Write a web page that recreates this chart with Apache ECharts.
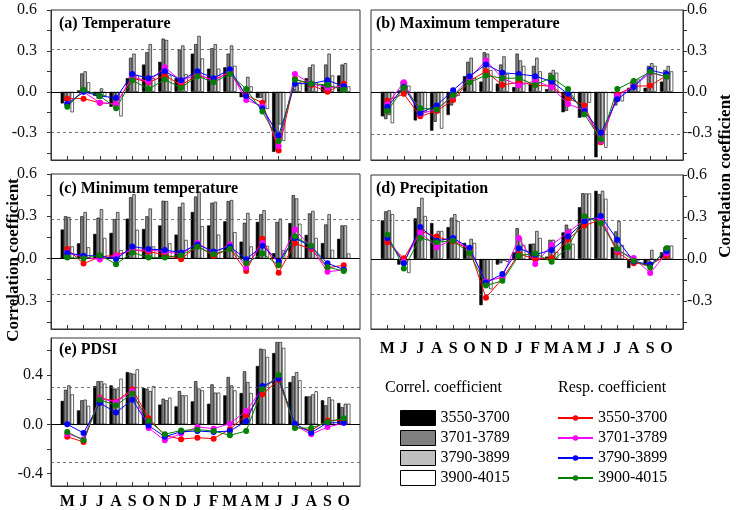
<!DOCTYPE html>
<html><head><meta charset="utf-8">
<script src="https://cdn.jsdelivr.net/npm/echarts@6/dist/echarts.min.js"></script>
<style>html,body{margin:0;padding:0;background:#fff}#c{width:736px;height:510px}</style>
</head><body><div id="c"></div>
<script>
const months = ['M','J','J','A','S','O','N','D','J','F','M','A','M','J','J','A','S','O'];
const groups = ['3550-3700','3701-3789','3790-3899','3900-4015'];

// (a) Temperature
const temp_c1 = [-0.085, 0.01, -0.03, -0.11, 0.10, 0.20, 0.22, 0.10, 0.28, 0.17, 0.18, -0.04, -0.045, -0.44, -0.01, 0.10, 0.05, 0.12];
const temp_c2 = [-0.07, 0.135, -0.05, -0.09, 0.25, 0.29, 0.39, 0.31, 0.35, 0.32, 0.28, -0.04, -0.045, -0.43, 0.02, 0.18, 0.20, 0.20];
const temp_c3 = [-0.09, 0.15, 0.025, -0.06, 0.28, 0.35, 0.38, 0.34, 0.41, 0.35, 0.34, 0.11, -0.075, -0.24, 0.05, 0.20, 0.28, 0.21];
const temp_c4 = [-0.15, 0.07, -0.03, -0.18, 0.12, 0.10, 0.12, 0.13, 0.245, 0.17, 0.19, 0.04, -0.125, -0.36, 0.07, 0.07, 0.12, 0.04];
const temp_r1 = [-0.05, -0.05, -0.08, -0.09, 0.10, 0.07, 0.12, 0.05, 0.12, 0.09, 0.14, -0.025, -0.08, -0.43, 0.095, 0.05, 0.0, 0.06];
const temp_r2 = [-0.09, 0.0, -0.08, -0.09, 0.11, 0.075, 0.18, 0.08, 0.13, 0.08, 0.15, -0.06, -0.105, -0.40, 0.13, 0.06, 0.03, 0.04];
const temp_r3 = [-0.09, 0.0, -0.03, -0.045, 0.13, 0.10, 0.15, 0.085, 0.15, 0.10, 0.165, -0.03, -0.12, -0.32, 0.06, 0.06, 0.085, 0.04];
const temp_r4 = [-0.11, 0.016, -0.03, -0.12, 0.085, 0.02, 0.09, 0.03, 0.115, 0.07, 0.13, 0.02, -0.145, -0.36, 0.09, 0.06, 0.05, 0.015];

// (b) Maximum temperature
const tmax_c1 = [-0.18, 0.01, -0.21, -0.285, -0.17, 0.115, 0.075, 0.06, 0.035, 0.06, 0.02, -0.15, -0.19, -0.48, -0.01, 0.03, 0.03, 0.075];
const tmax_c2 = [-0.20, 0.08, -0.18, -0.22, -0.10, 0.22, 0.29, 0.20, 0.28, 0.19, 0.14, -0.14, -0.185, -0.385, -0.10, 0.08, 0.19, 0.16];
const tmax_c3 = [-0.17, 0.075, -0.17, -0.155, -0.04, 0.25, 0.28, 0.26, 0.23, 0.25, 0.16, -0.07, -0.14, -0.34, -0.05, 0.07, 0.21, 0.19];
const tmax_c4 = [-0.23, 0.045, -0.15, -0.27, -0.03, 0.10, 0.16, 0.13, 0.19, 0.15, 0.14, -0.05, -0.08, -0.41, -0.07, 0.09, 0.19, 0.15];
const tmax_r1 = [-0.066, -0.015, -0.18, -0.14, -0.06, 0.08, 0.15, 0.05, 0.07, 0.05, 0.04, -0.047, -0.10, -0.37, -0.02, 0.04, 0.045, 0.12];
const tmax_r2 = [-0.09, 0.07, -0.16, -0.13, -0.03, 0.10, 0.23, 0.10, 0.047, 0.08, 0.035, -0.09, -0.135, -0.36, -0.03, 0.04, 0.14, 0.11];
const tmax_r3 = [-0.11, 0.035, -0.155, -0.10, 0.012, 0.115, 0.20, 0.14, 0.13, 0.115, 0.075, -0.015, -0.14, -0.30, -0.055, 0.035, 0.16, 0.13];
const tmax_r4 = [-0.14, 0.03, -0.12, -0.13, -0.025, 0.07, 0.12, 0.10, 0.10, 0.05, 0.105, 0.02, -0.165, -0.35, 0.02, 0.08, 0.145, 0.11];

// (c) Minimum temperature
const tmin_c1 = [0.206, 0.108, 0.175, 0.182, 0.283, 0.21, 0.235, 0.17, 0.33, 0.235, 0.264, 0.12, 0.26, 0.038, 0.252, 0.168, 0.11, 0.14];
const tmin_c2 = [0.30, 0.30, 0.29, 0.28, 0.435, 0.30, 0.41, 0.367, 0.44, 0.396, 0.408, 0.254, 0.314, 0.26, 0.45, 0.32, 0.242, 0.235];
const tmin_c3 = [0.295, 0.33, 0.35, 0.33, 0.456, 0.355, 0.408, 0.396, 0.475, 0.403, 0.415, 0.324, 0.343, 0.283, 0.427, 0.338, 0.314, 0.235];
const tmin_c4 = [0.086, 0.08, 0.146, 0.06, 0.204, 0.086, 0.108, 0.132, 0.23, 0.17, 0.187, 0.086, 0.09, 0.06, 0.247, 0.146, 0.062, 0.036];
const tmin_r1 = [0.067, -0.036, 0.012, 0.024, 0.06, 0.05, 0.026, -0.005, 0.09, 0.02, 0.07, -0.089, 0.14, -0.10, 0.108, 0.067, -0.065, -0.048];
const tmin_r2 = [0.043, 0.01, -0.007, 0.02, 0.06, 0.06, 0.05, 0.03, 0.11, 0.04, 0.10, -0.065, 0.11, -0.034, 0.206, 0.08, -0.094, -0.08];
const tmin_r3 = [0.04, 0.02, 0.02, -0.005, 0.086, 0.067, 0.06, 0.043, 0.10, 0.05, 0.086, -0.005, 0.09, -0.022, 0.146, 0.085, -0.034, -0.077];
const tmin_r4 = [0.007, 0.0, 0.024, -0.04, 0.043, 0.007, 0.007, 0.024, 0.084, 0.03, 0.067, -0.034, 0.036, -0.048, 0.156, 0.09, -0.06, -0.089];

// (d) Precipitation
const prec_c1 = [0.276, -0.04, 0.29, 0.257, 0.228, 0.115, -0.33, -0.04, 0.048, 0.108, 0.017, 0.19, 0.37, 0.487, 0.084, -0.065, -0.043, 0.048];
const prec_c2 = [0.34, -0.03, 0.37, 0.16, 0.295, 0.06, -0.18, -0.03, 0.22, 0.11, 0.137, 0.245, 0.47, 0.463, 0.197, -0.03, -0.036, 0.084];
const prec_c3 = [0.348, -0.01, 0.437, 0.20, 0.32, 0.144, -0.15, -0.012, 0.15, 0.20, 0.137, 0.216, 0.468, 0.487, 0.27, -0.02, 0.065, 0.096];
const prec_c4 = [0.32, -0.10, 0.307, 0.20, 0.27, 0.115, -0.216, -0.02, 0.10, 0.15, 0.05, 0.108, 0.468, 0.43, 0.10, -0.01, -0.012, 0.096];
const prec_r1 = [0.12, 0.005, 0.20, 0.16, 0.125, 0.07, -0.276, -0.14, 0.036, 0.0, 0.007, 0.14, 0.24, 0.28, 0.048, -0.03, -0.04, 0.024];
const prec_r2 = [0.15, -0.02, 0.19, 0.084, 0.14, 0.07, -0.16, -0.13, 0.15, -0.036, 0.10, 0.19, 0.28, 0.29, 0.06, 0.007, -0.10, 0.04];
const prec_r3 = [0.15, -0.03, 0.228, 0.13, 0.15, 0.08, -0.168, -0.108, 0.077, 0.03, 0.065, 0.16, 0.27, 0.307, 0.137, -0.017, -0.04, 0.055];
const prec_r4 = [0.173, -0.067, 0.15, 0.12, 0.13, 0.043, -0.19, -0.156, 0.024, 0.04, -0.02, 0.084, 0.305, 0.257, 0.072, -0.012, -0.06, 0.077];

// (e) PDSI
const pdsi_c1 = [0.19, 0.113, 0.31, 0.316, 0.424, 0.295, 0.16, 0.146, 0.186, 0.167, 0.235, 0.254, 0.473, 0.578, 0.343, 0.227, 0.195, 0.173];
const pdsi_c2 = [0.28, 0.195, 0.35, 0.29, 0.416, 0.29, 0.208, 0.27, 0.35, 0.324, 0.384, 0.43, 0.613, 0.667, 0.39, 0.227, 0.154, 0.14];
const pdsi_c3 = [0.316, 0.20, 0.35, 0.29, 0.41, 0.27, 0.195, 0.235, 0.29, 0.257, 0.316, 0.343, 0.608, 0.667, 0.424, 0.243, 0.22, 0.167];
const pdsi_c4 = [0.243, 0.15, 0.33, 0.37, 0.446, 0.31, 0.216, 0.235, 0.275, 0.257, 0.275, 0.254, 0.546, 0.62, 0.357, 0.268, 0.20, 0.167];
const pdsi_r1 = [-0.10, -0.143, 0.216, 0.186, 0.284, 0.05, -0.09, -0.12, -0.108, -0.116, -0.04, 0.073, 0.243, 0.362, -0.02, -0.05, 0.032, 0.032];
const pdsi_r2 = [-0.076, -0.12, 0.21, 0.18, 0.27, -0.03, -0.13, -0.075, -0.022, -0.035, 0.005, 0.108, 0.29, 0.38, -0.01, -0.081, -0.022, 0.01];
const pdsi_r3 = [0.0, -0.07, 0.173, 0.095, 0.20, -0.01, -0.10, -0.06, -0.054, -0.062, -0.054, 0.024, 0.31, 0.37, 0.005, -0.068, 0.013, 0.013];
const pdsi_r4 = [-0.062, -0.13, 0.20, 0.154, 0.25, 0.03, -0.08, -0.05, -0.043, -0.054, -0.089, -0.054, 0.284, 0.40, -0.03, -0.03, 0.019, 0.05];

// significance thresholds (dashed lines) per panel
const sigA = [0.31, -0.30];
const sigB = [0.31, -0.31];
const sigC = [0.28, -0.25];
const sigD = [0.28, -0.25];
const sigE = [0.30, -0.31];

// tick label values
const labelsAD = [-0.3, 0, 0.3, 0.6];
const ticksAD = [-0.45, -0.3, -0.15, 0, 0.15, 0.3, 0.45, 0.6];
const labelsE = [-0.4, 0, 0.4];
const ticksE = [-0.4, -0.2, 0, 0.2, 0.4, 0.6];

const FONT = '"Liberation Serif", "DejaVu Serif", serif';
const barColors = ['#000000', '#808080', '#c0c0c0', '#ffffff'];
const lineColors = ['#ff0000', '#ff00ff', '#0000ff', '#008000'];

const panels = [
  {title: '(a) Temperature', corr: [temp_c1, temp_c2, temp_c3, temp_c4], resp: [temp_r1, temp_r2, temp_r3, temp_r4],
   grid: {left: 51, top: 10, width: 309, height: 150}, side: 'left', min: -0.5, max: 0.6, labels: labelsAD, ticks: ticksAD, sig: sigA, showX: false, lm: 14, tl: [59, 16]},
  {title: '(b) Maximum temperature', corr: [tmax_c1, tmax_c2, tmax_c3, tmax_c4], resp: [tmax_r1, tmax_r2, tmax_r3, tmax_r4],
   grid: {left: 371, top: 10, width: 312, height: 150}, side: 'right', min: -0.5, max: 0.6, labels: labelsAD, ticks: ticksAD, sig: sigB, showX: false, lm: 4, tl: [376, 16]},
  {title: '(c) Minimum temperature', corr: [tmin_c1, tmin_c2, tmin_c3, tmin_c4], resp: [tmin_r1, tmin_r2, tmin_r3, tmin_r4],
   grid: {left: 51, top: 174, width: 309, height: 155}, side: 'left', min: -0.5, max: 0.6, labels: labelsAD, ticks: ticksAD, sig: sigC, showX: false, lm: 14, tl: [59, 181]},
  {title: '(d) Precipitation', corr: [prec_c1, prec_c2, prec_c3, prec_c4], resp: [prec_r1, prec_r2, prec_r3, prec_r4],
   grid: {left: 371, top: 175, width: 312, height: 154}, side: 'right', min: -0.5, max: 0.6, labels: labelsAD, ticks: ticksAD, sig: sigD, showX: true, xm: 12, lm: 4, tl: [376, 181]},
  {title: '(e) PDSI', corr: [pdsi_c1, pdsi_c2, pdsi_c3, pdsi_c4], resp: [pdsi_r1, pdsi_r2, pdsi_r3, pdsi_r4],
   grid: {left: 51, top: 338, width: 309, height: 150}, side: 'left', min: -0.5, max: 0.7, labels: labelsE, ticks: ticksE, sig: sigE, showX: true, xm: 8, lm: 8, tl: [59, 342]}
];

const pad = arr => [null, ...arr, null];
const cats = ['', ...months, ''];

const grids = [], xAxes = [], yAxes = [], series = [], titles = [];
panels.forEach((p, i) => {
  grids.push(Object.assign({show: true, borderColor: '#333', borderWidth: 1, containLabel: false}, p.grid));
  xAxes.push({
    type: 'category', gridIndex: i, data: cats, boundaryGap: false,
    axisLine: {show: true, onZero: false, lineStyle: {color: '#333', width: 1}},
    axisTick: {show: true, inside: true, length: 4, interval: (idx) => idx > 0 && idx < cats.length - 1, lineStyle: {color: '#333'}},
    axisLabel: {show: p.showX, interval: 0, margin: p.xm || 8, fontFamily: FONT, fontWeight: 'bold', fontSize: 16, color: '#000'},
    splitLine: {show: false}
  });
  yAxes.push({
    type: 'value', gridIndex: i, min: p.min, max: p.max, position: p.side,
    axisLine: {show: true, lineStyle: {color: '#333', width: 1}},
    axisTick: {show: true, inside: false, length: 4, customValues: p.ticks, lineStyle: {color: '#333'}},
    axisLabel: {customValues: p.labels, formatter: v => v.toFixed(1), margin: p.lm, fontFamily: FONT, fontSize: 16, color: '#111'},
    splitLine: {show: false}
  });
  titles.push({text: p.title, left: p.tl[0], top: p.tl[1], padding: 0,
    textStyle: {fontFamily: FONT, fontWeight: 'bold', fontSize: 16, color: '#000'}});
  for (let k = 0; k < 4; k++) {
    const s = {
      type: 'bar', name: groups[k], xAxisIndex: i, yAxisIndex: i, data: pad(p.corr[k]),
      barWidth: 3.3, barGap: '0%', silent: true, z: 2,
      itemStyle: {color: barColors[k], borderColor: '#000', borderWidth: 0.6}
    };
    if (k === 0) {
      s.markLine = {
        symbol: 'none', silent: true, label: {show: false}, animation: false,
        data: [
          {yAxis: 0, lineStyle: {type: 'solid', color: '#000', width: 1}},
          {yAxis: p.sig[0], lineStyle: {type: [3, 3], color: '#555', width: 0.8}},
          {yAxis: p.sig[1], lineStyle: {type: [3, 3], color: '#555', width: 0.8}}
        ]
      };
    }
    series.push(s);
  }
  for (let k = 0; k < 4; k++) {
    series.push({
      type: 'line', name: 'r' + groups[k], xAxisIndex: i, yAxisIndex: i, data: pad(p.resp[k]),
      symbol: 'circle', symbolSize: 6, z: 5, silent: true, connectNulls: false,
      itemStyle: {color: lineColors[k]}, lineStyle: {color: lineColors[k], width: 1}
    });
  }
});

titles.push({text: 'Correl. coefficient', left: 385, top: 380, padding: 0,
  textStyle: {fontFamily: FONT, fontWeight: 'normal', fontSize: 16, color: '#000'}});
titles.push({text: 'Resp. coefficient', left: 558, top: 380, padding: 0,
  textStyle: {fontFamily: FONT, fontWeight: 'normal', fontSize: 16, color: '#000'}});

const chart = echarts.init(document.getElementById('c'), null, {renderer: 'canvas'});
chart.setOption({
  animation: false,
  backgroundColor: '#fff',
  title: titles,
  grid: grids,
  xAxis: xAxes,
  yAxis: yAxes,
  series: series,
  legend: [
    {data: groups.map(g => ({name: g, icon: 'rect'})), left: 400, top: 410, height: 100, orient: 'vertical',
     itemWidth: 35, itemHeight: 15, itemGap: 4, selectedMode: false, padding: 0,
     itemStyle: {borderColor: '#000', borderWidth: 1},
     textStyle: {fontFamily: FONT, fontSize: 16, lineHeight: 16, color: '#000'}},
    {data: groups.map(g => 'r' + g), formatter: n => n.slice(1), left: 557, top: 410, height: 100, orient: 'vertical',
     itemWidth: 35, itemHeight: 7, itemGap: 4, selectedMode: false, padding: 0,
     textStyle: {fontFamily: FONT, fontSize: 16, lineHeight: 16, color: '#000'}}
  ],
  graphic: [
    {type: 'text', x: 14, y: 260, rotation: Math.PI / 2,
     style: {text: 'Correlation coefficient', font: 'bold 17px "Liberation Serif"', fill: '#000',
             align: 'center', verticalAlign: 'middle', textAlign: 'center', textVerticalAlign: 'middle'}},
    {type: 'text', x: 726, y: 176, rotation: Math.PI / 2,
     style: {text: 'Correlation coefficient', font: 'bold 17px "Liberation Serif"', fill: '#000',
             align: 'center', verticalAlign: 'middle', textAlign: 'center', textVerticalAlign: 'middle'}}
  ]
});
</script></body></html>
